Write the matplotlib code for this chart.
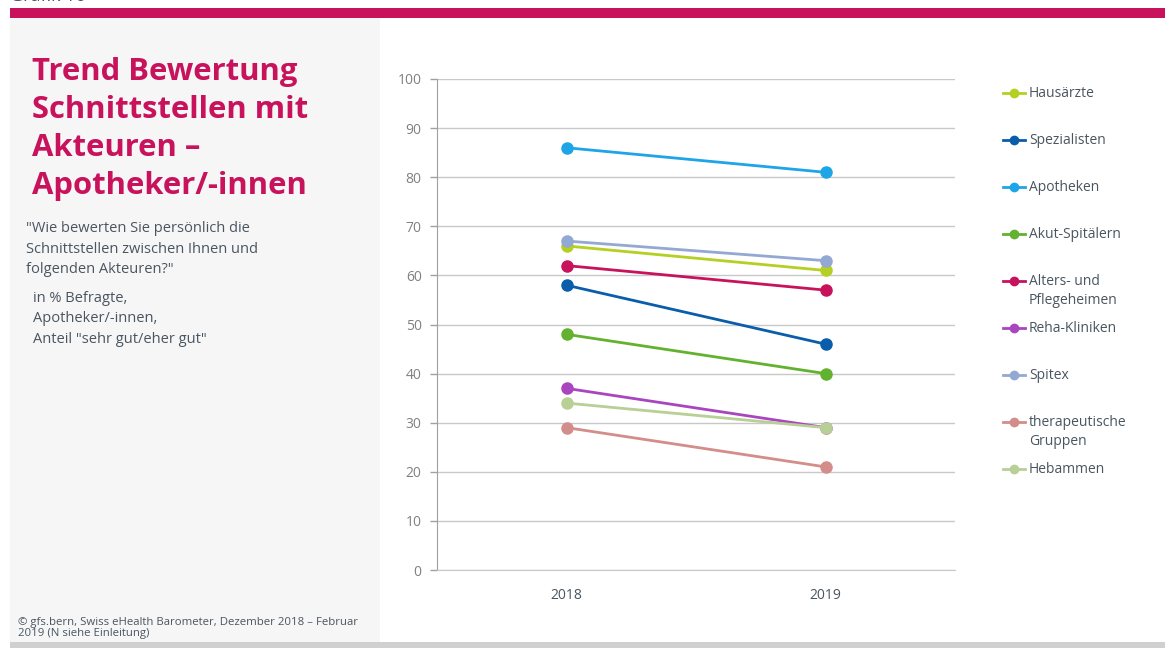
import matplotlib
matplotlib.use("Agg")
import matplotlib.pyplot as plt
from matplotlib.lines import Line2D
from matplotlib.patches import Rectangle

plt.rcParams['font.family'] = ['Open Sans', 'DejaVu Sans']

years = ["2018", "2019"]
series = ["Hausärzte", "Spezialisten", "Apotheken", "Akut-Spitälern",
          "Alters- und\nPflegeheimen", "Reha-Kliniken", "Spitex",
          "therapeutische\nGruppen", "Hebammen"]
v2018 = [66, 58, 86, 48, 62, 37, 67, 29, 34]
v2019 = [61, 46, 81, 40, 57, 29, 63, 21, 29]
colors = ["#B5CF22", "#0A5DAA", "#1EA5E8", "#62B22F", "#C8125C",
          "#A945BF", "#93A8D2", "#D38D8A", "#B8CF96"]
yticks = [0, 10, 20, 30, 40, 50, 60, 70, 80, 90, 100]

W, H = 1165, 648
fig = plt.figure(figsize=(W / 100, H / 100), dpi=100)
fig.patch.set_facecolor("white")

def fx(px): return px / W
def fy(py): return 1 - py / H

# background panels
fig.patches.append(Rectangle((fx(10), fy(642)), fx(380) - fx(10), fy(18) - fy(642),
                             transform=fig.transFigure, facecolor="#F6F6F6", edgecolor="none", zorder=0))
fig.patches.append(Rectangle((fx(10), fy(18)), 1 - fx(10), fy(8) - fy(18),
                             transform=fig.transFigure, facecolor="#C8125C", edgecolor="none", zorder=1))
fig.patches.append(Rectangle((fx(10), 0), 1 - fx(10), fy(642),
                             transform=fig.transFigure, facecolor="#D0D0D0", edgecolor="none", zorder=1))
fig.text(fx(10), fy(5), "Grafik 16", fontsize=13, color="#4A5560", va="bottom", ha="left")

# title & texts
fig.text(fx(32), fy(57), "Trend Bewertung\nSchnittstellen mit\nAkteuren –\nApotheker/-innen",
         fontsize=22.3, fontweight="bold", color="#C8125C", va="top", ha="left", linespacing=1.35)
fig.text(fx(26), fy(221), "\"Wie bewerten Sie persönlich die\nSchnittstellen zwischen Ihnen und\nfolgenden Akteuren?\"",
         fontsize=10.5, color="#4A5560", va="top", ha="left", linespacing=1.5)
fig.text(fx(33), fy(291), "in % Befragte,\nApotheker/-innen,\nAnteil \"sehr gut/eher gut\"",
         fontsize=10.5, color="#4A5560", va="top", ha="left", linespacing=1.5)
fig.text(fx(18), fy(617), "© gfs.bern, Swiss eHealth Barometer, Dezember 2018 – Februar\n2019 (N siehe Einleitung)",
         fontsize=8.2, color="#4A5560", va="top", ha="left", linespacing=0.95)

# axes
ax = fig.add_axes([fx(437), fy(570), fx(955) - fx(437), fy(79) - fy(570)])
ax.set_facecolor("none")
x = list(range(len(years)))
for name, a, b, c in zip(series, v2018, v2019, colors):
    ax.plot(x, [a, b], color=c, lw=2, marker="o", ms=8, zorder=3, clip_on=False)

ax.set_xlim(-0.5, 1.5)
ax.set_ylim(0, 100)
ax.set_yticks(yticks)
ax.set_yticklabels([str(t) for t in yticks])
ax.set_xticks(x)
ax.set_xticklabels(years)
ax.yaxis.grid(True, color="#C8C8C8", lw=1)
ax.set_axisbelow(True)
for s in ["top", "right"]:
    ax.spines[s].set_visible(False)
ax.spines["left"].set_color("#A0A0A0")
ax.spines["bottom"].set_color("#C8C8C8")
ax.tick_params(axis="y", colors="#A0A0A0", labelcolor="#808080", labelsize=10, length=5, width=1, pad=6)
ax.tick_params(axis="x", length=0, labelcolor="#4A5560", labelsize=10, pad=13)

# legend (manual)
leg_y = [93, 140, 187, 234, 281, 328, 375, 422, 469]
for name, c, yy in zip(series, colors, leg_y):
    fig.add_artist(Line2D([fx(1003), fx(1025)], [fy(yy), fy(yy)], color=c, lw=2,
                          transform=fig.transFigure))
    fig.add_artist(Line2D([fx(1014)], [fy(yy)], color=c, marker="o", ms=6,
                          transform=fig.transFigure))
    fig.text(fx(1029), fy(yy - 7), name, fontsize=10, color="#4A5560", va="top", ha="left",
             linespacing=1.35)

fig.savefig("out.png", dpi=100)
